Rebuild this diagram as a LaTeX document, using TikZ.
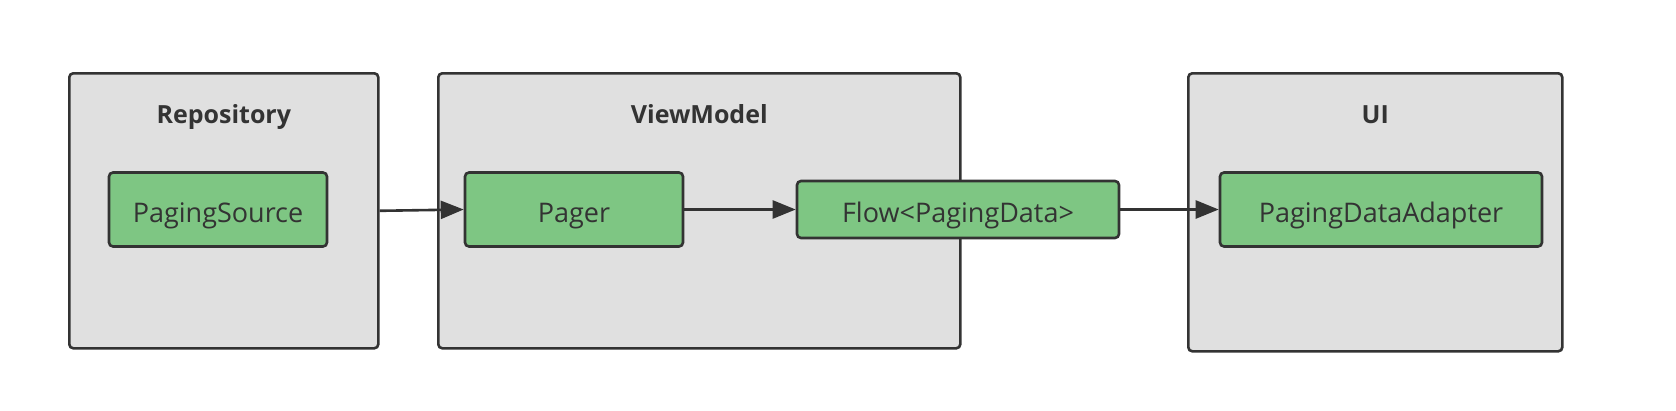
\documentclass[tikz,border=0pt]{standalone}
\usepackage{fontspec}
\setmainfont{Open Sans}
\usetikzlibrary{positioning,arrows.meta}
\definecolor{layerfill}{HTML}{E0E0E0}
\definecolor{compfill}{HTML}{7EC683}
\definecolor{inkgray}{HTML}{333333}
\tikzset{
  layer box/.style={draw=inkgray, fill=layerfill, line width=2.6pt,
    rounded corners=4pt, anchor=north west, inner sep=0pt},
  comp box/.style={draw=inkgray, fill=compfill, line width=2.6pt,
    rounded corners=4pt, inner sep=0pt, text=inkgray,
    text height=26pt, text depth=0pt,
    font=\fontsize{27}{32}\selectfont},
  layer title/.style={font=\fontsize{25}{30}\selectfont\bfseries, text=inkgray,
    inner sep=0pt, text height=18pt, text depth=0pt},
  flow arrow/.style={draw=inkgray, line width=2.6pt,
    -{Triangle[length=23pt,width=18pt]}},
}
\begin{document}
\begin{tikzpicture}[x=1pt,y=-1pt]
  \useasboundingbox (0,0) rectangle (1676,410);
  % layers
  \node[layer box, minimum width=309pt, minimum height=275pt] (repo) at (68,72) {};
  \node[layer box, minimum width=522pt, minimum height=275pt] (vm) at (437,72) {};
  \node[layer box, minimum width=374pt, minimum height=278pt] (ui) at (1187,72) {};
  \node[layer title] (repotitle) at ([yshift=-42pt]repo.north) {Repository};
  \node[layer title] (vmtitle) at ([yshift=-42pt]vm.north) {ViewModel};
  \node[layer title] (uititle) at ([yshift=-42pt]ui.north) {UI};
  % components
  \node[comp box, minimum width=218pt, minimum height=74pt] (source) at (218,209.5) {PagingSource};
  \node[comp box, minimum width=218pt, minimum height=74pt] (pager) at (574,209.5) {Pager};
  \node[comp box, minimum width=322pt, minimum height=57pt] (flow) at (958,209.5) {Flow<PagingData>};
  \node[comp box, minimum width=322pt, minimum height=74pt] (adapter) at (1381,209.5) {PagingDataAdapter};
  % connectors
  \draw[flow arrow] (repo.east) -- (pager.west);
  \draw[flow arrow] (pager.east) -- (flow.west);
  \draw[flow arrow] (flow.east) -- (adapter.west);
\end{tikzpicture}
\end{document}
